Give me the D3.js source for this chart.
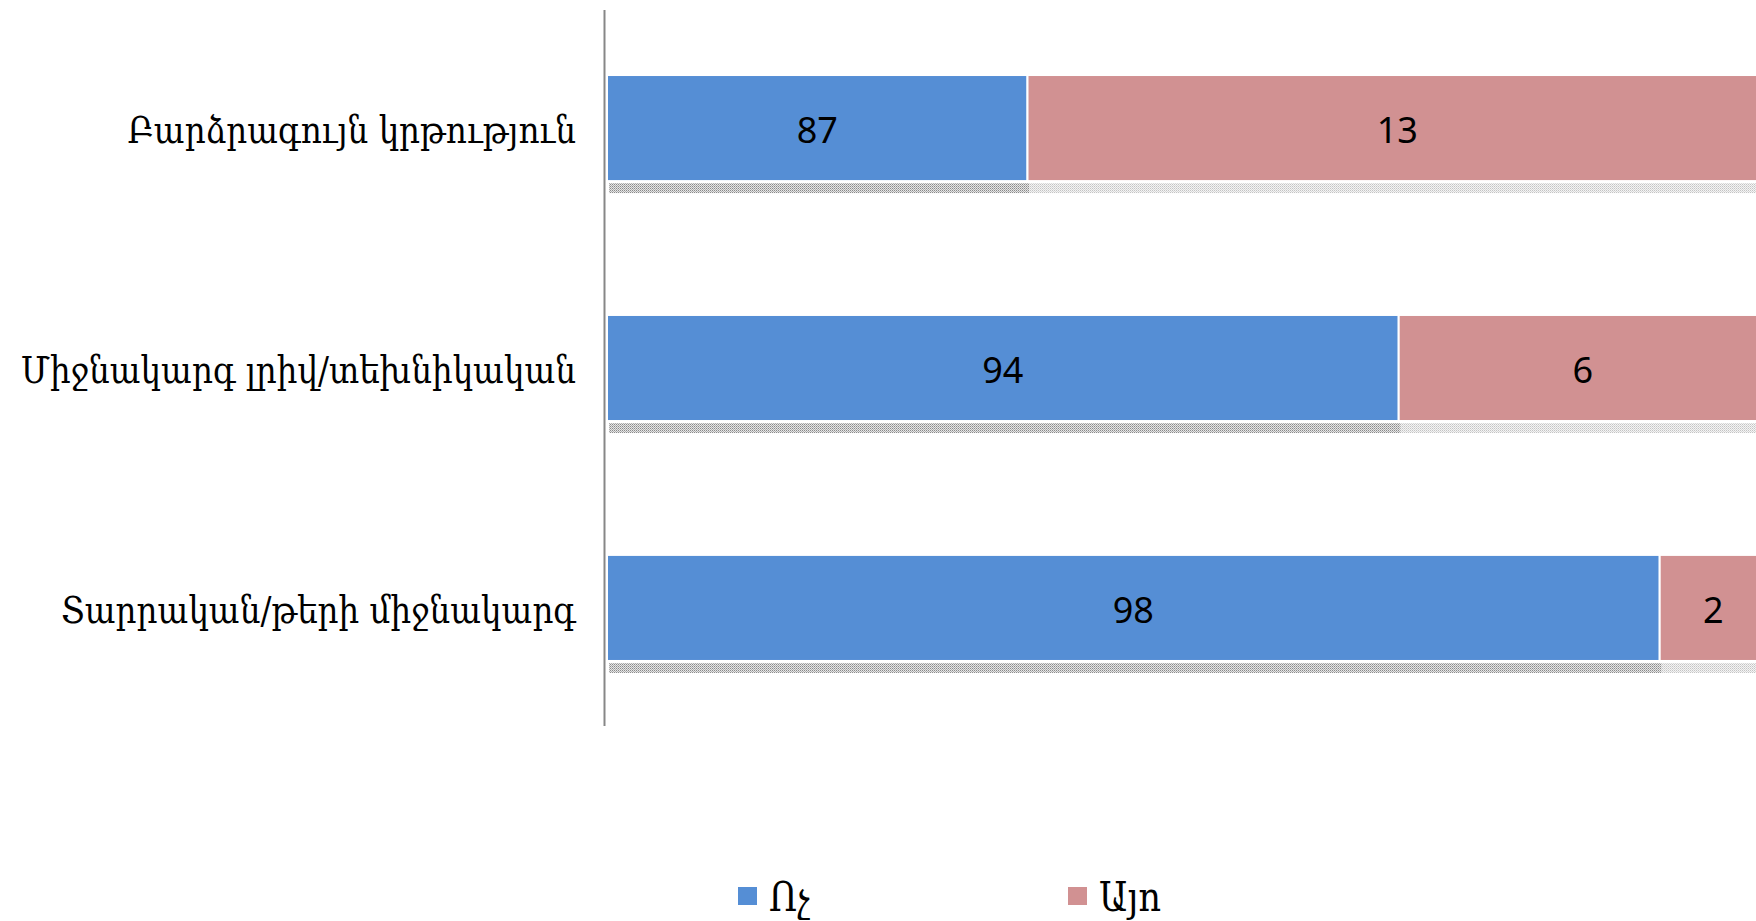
<!DOCTYPE html>
<html>
<head>
<meta charset="utf-8">
<script src="https://cdn.jsdelivr.net/npm/d3@7"></script>
<style>
  html, body { margin: 0; padding: 0; background: #fff; }
  svg { display: block; }
</style>
</head>
<body>
<svg id="chart" width="1756" height="921"></svg>
<script>
// ---- data ----
const categories = ["Բարձրագույն կրթություն", "Միջնակարգ լրիվ/տեխնիկական", "Տարրական/թերի միջնակարգ"];
const seriesNames = ["Ոչ", "Այո"];
const valuesNo  = [87.25, 93.65, 98.15];
const valuesYes = [12.75, 6.35, 1.85];
const axisDomain = [80, 100];

// ---- layout ----
const W = 1756, H = 921;
const plot = { left: 607, right: 1767, top: 10, bottom: 726 };
const colors = ["#558ED5", "#D19192"];
const labelFont = "'DejaVu Serif', serif";
const labelScaleX = 0.857;

const svg = d3.select("#chart");

const defs = svg.append("defs");
function hatch(id, col, bg) {
  const p = defs.append("pattern").attr("id", id).attr("patternUnits", "userSpaceOnUse")
    .attr("width", 4).attr("height", 4);
  p.append("rect").attr("width", 4).attr("height", 4).attr("fill", bg);
  [[0,0],[2,0],[1,1],[3,1],[0,2],[2,2],[1,3],[3,3]].forEach(([a,b]) => {
    p.append("rect").attr("x", a).attr("y", b).attr("width", 1).attr("height", 1)
      .attr("fill", col).attr("opacity", (b % 2 === 0) ? 1 : 0.6);
  });
}
hatch("shadeDark", "#8a8a8a", "#e6e6e6");
hatch("shadeLight", "#c4c4c4", "#f4f4f4");

const x = d3.scaleLinear().domain(axisDomain).range([plot.left, plot.right]).clamp(true);
const y = d3.scaleBand().domain(categories).range([plot.top, plot.bottom])
  .paddingInner(0.558).paddingOuter(0.271);

const rows = categories.map((c, i) => ({ cat: c, no: valuesNo[i], yes: valuesYes[i] }));
const stack = d3.stack().keys(["no", "yes"])(rows);

const fmt = d3.format(".0f");

stack.forEach((layer, li) => {
  const g = svg.append("g");
  // shadow strips
  g.selectAll("rect.sh").data(layer).join("rect").attr("class", "sh")
    .attr("x", d => x(d[0]) + 2)
    .attr("y", d => y(d.data.cat) + y.bandwidth() + 2)
    .attr("width", d => Math.max(0, x(d[1]) - x(d[0])))
    .attr("height", 10)
    .attr("fill", li === 0 ? "url(#shadeDark)" : "url(#shadeLight)");
  g.selectAll("rect.bar").data(layer).join("rect").attr("class", "bar")
    .attr("x", d => x(d[0]))
    .attr("y", d => y(d.data.cat))
    .attr("width", d => x(d[1]) - x(d[0]))
    .attr("height", y.bandwidth())
    .attr("fill", colors[li])
    .attr("stroke", "#ffffff").attr("stroke-width", 2);
  g.selectAll("text").data(layer).join("text")
    .attr("x", d => (x(d[0]) + x(d[1])) / 2)
    .attr("y", d => y(d.data.cat) + y.bandwidth() / 2 + 15)
    .attr("text-anchor", "middle")
    .attr("font-family", "'Noto Sans', 'Open Sans', sans-serif")
    .attr("font-size", 36)
    .attr("fill", "#000")
    .text(d => fmt(d[1] - d[0]));
});

// category axis line
svg.append("line")
  .attr("x1", plot.left - 2.5).attr("x2", plot.left - 2.5)
  .attr("y1", plot.top).attr("y2", plot.bottom)
  .attr("stroke", "#878787").attr("stroke-width", 2);

// category labels
svg.append("g").selectAll("text").data(categories).join("text")
  .attr("transform", d => `translate(576,${y(d) + y.bandwidth() / 2 + 15}) scale(${labelScaleX},1)`)
  .attr("text-anchor", "end")
  .attr("font-family", labelFont)
  .attr("font-size", 38)
  .attr("fill", "#000")
  .text(d => d);

// legend
const legendX = [738, 1068];
const lg = svg.append("g").selectAll("g").data(seriesNames).join("g")
  .attr("transform", (d, i) => `translate(${legendX[i]},887)`);
lg.append("rect").attr("width", 19).attr("height", 18).attr("fill", (d, i) => colors[i]);
lg.append("text").attr("transform", `translate(31,24) scale(${labelScaleX},1)`)
  .attr("font-family", labelFont).attr("font-size", 41)
  .attr("fill", "#000").text(d => d);
</script>
</body>
</html>
